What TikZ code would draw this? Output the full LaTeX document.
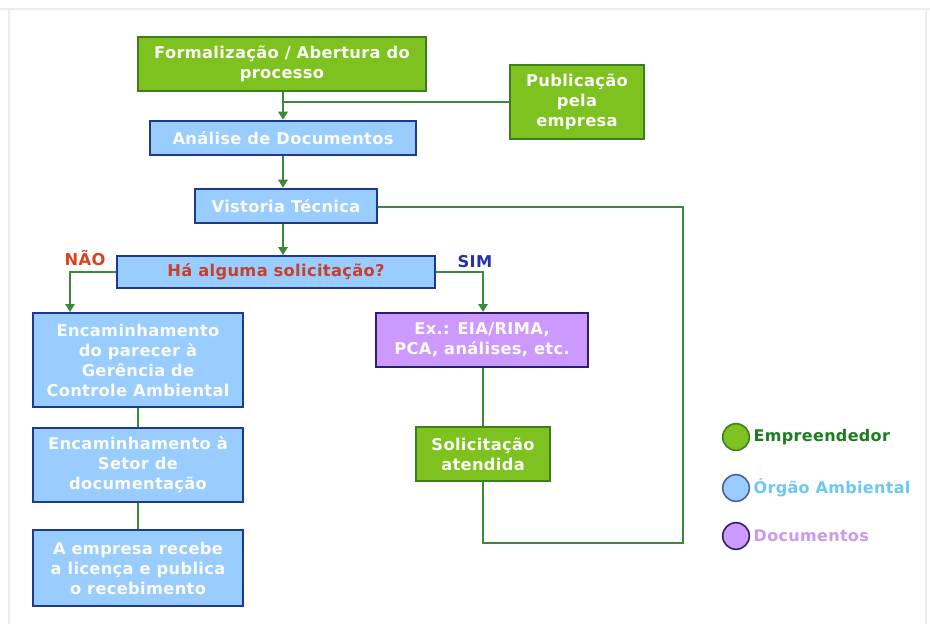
\documentclass[tikz,border=0pt]{standalone}
\usepackage{fontspec}
\setmainfont{DejaVu Sans}[BoldFont={DejaVu Sans Bold}]
\newfontfamily\boxfont{DejaVu Sans Bold}[LetterSpace=2]
\usetikzlibrary{arrows.meta}

\definecolor{grnfill}{HTML}{7DC21E}
\definecolor{grnedge}{HTML}{3E7E1C}
\definecolor{bluefill}{HTML}{99CCFF}
\definecolor{blueedge}{HTML}{1E3A8A}
\definecolor{purfill}{HTML}{CC99FF}
\definecolor{puredge}{HTML}{2E1F6B}
\definecolor{wire}{HTML}{3A8A3A}
\definecolor{txtwhite}{HTML}{FAFCF5}
\definecolor{asktxt}{HTML}{C8402A}
\definecolor{naotxt}{HTML}{E0401E}
\definecolor{simtxt}{HTML}{2233AA}
\definecolor{legGreen}{HTML}{1E7B1E}
\definecolor{legBlue}{HTML}{6CC8F2}
\definecolor{legPurple}{HTML}{CC99EE}
\definecolor{framegray}{HTML}{EDEDED}

\tikzset{
  basebox/.style={rectangle, draw, line width=1.4pt, inner sep=0pt, align=center,
    text=txtwhite, font=\boxfont\fontsize{12.2}{15}\selectfont},
  greenbox/.style={basebox, fill=grnfill, draw=grnedge},
  bluebox/.style={basebox, fill=bluefill, draw=blueedge},
  purplebox/.style={basebox, fill=purfill, draw=puredge},
  wireline/.style={draw=wire, line width=1.5pt},
  arr/.style={wireline, -{Triangle[length=6pt,width=7pt]}},
  answer/.style={font=\boxfont\fontsize{12.2}{15}\selectfont},
  legdot/.style={circle, line width=1.2pt, minimum size=20pt, inner sep=0pt},
  legtext/.style={anchor=west, font=\boxfont\fontsize{12}{14}\selectfont},
}

\begin{document}
\begin{tikzpicture}[x=0.75pt, y=-0.75pt]
  \useasboundingbox (0,0) rectangle (930,624);
  \fill[white] (0,0) rectangle (930,624);

  % faint page frame
  \draw[framegray, line width=1pt] (0,9) -- (930,9);
  \draw[framegray, line width=1pt] (9,9) -- (9,624);
  \draw[framegray, line width=1pt] (926,9) -- (926,624);

  % process boxes
  \node[greenbox, minimum width=216pt, minimum height=41pt] (form) at (282,64)
    {Formalização / Abertura do\\processo};
  \node[greenbox, minimum width=101pt, minimum height=55pt] (pub) at (577,102)
    {Publicação\\pela\\empresa};
  \node[bluebox, minimum width=200pt, minimum height=26pt] (anal) at (283,138)
    {Análise de Documentos};
  \node[bluebox, minimum width=136pt, minimum height=26pt] (vist) at (286,206)
    {Vistoria Técnica};
  \node[bluebox, minimum width=238pt, minimum height=24pt, text=asktxt] (ask) at (276,272)
    {Há alguma solicitação?};
  \node[bluebox, minimum width=158pt, minimum height=71pt] (enc1) at (138,360)
    {Encaminhamento\\do parecer à\\Gerência de\\Controle Ambiental};
  \node[bluebox, minimum width=158pt, minimum height=56pt] (enc2) at (138,465)
    {Encaminhamento à\\Setor de\\documentação};
  \node[bluebox, minimum width=158pt, minimum height=57pt] (lic) at (138,568)
    {A empresa recebe\\a licença e publica\\o recebimento};
  \node[purplebox, minimum width=159pt, minimum height=41pt] (ex) at (482,340)
    {Ex.: EIA/RIMA,\\PCA, análises, etc.};
  \node[greenbox, minimum width=101pt, minimum height=41pt] (sol) at (483,454)
    {Solicitação\\atendida};

  % branch labels
  \node[answer, text=naotxt] (nao) at (85,258) {NÃO};
  \node[answer, text=simtxt] (sim) at (475,262) {SIM};

  % helper points for the branches and the return loop
  \coordinate (naoIn) at (70,312);
  \coordinate (simIn) at (483,312);
  \coordinate (loopA) at (483,543);
  \coordinate (loopB) at (683,543);
  \coordinate (loopC) at (683,207);

  % connectors
  \draw[arr] (form.south -| 283,0) -- (anal.north -| 283,0);
  \draw[wireline] (pub.west) -- (pub.west -| 283,0);
  \draw[arr] (anal.south -| 283,0) -- (vist.north -| 283,0);
  \draw[arr] (vist.south -| 283,0) -- (ask.north -| 283,0);
  \draw[arr] (ask.west) -| (naoIn);
  \draw[arr] (ask.east) -| (simIn);
  \draw[wireline] (ex.south -| 483,0) -- (sol.north);
  \draw[wireline] (sol.south) -- (loopA) -- (loopB) -- (loopC) -- (vist.east |- loopC);
  \draw[wireline] (enc1.south) -- (enc2.north);
  \draw[wireline] (enc2.south) -- (lic.north);

  % legend
  \node[legdot, fill=grnfill, draw=grnedge] (dotA) at (736,437) {};
  \node[legdot, fill=bluefill, draw=blueedge!80] (dotB) at (736,488) {};
  \node[legdot, fill=purfill, draw=puredge] (dotC) at (736,536) {};
  \node[legtext, text=legGreen] (legA) at (749,437) {Empreendedor};
  \node[legtext, text=legBlue] (legB) at (749,488) {Órgão Ambiental};
  \node[legtext, text=legPurple] (legC) at (749,536) {Documentos};
\end{tikzpicture}
\end{document}
